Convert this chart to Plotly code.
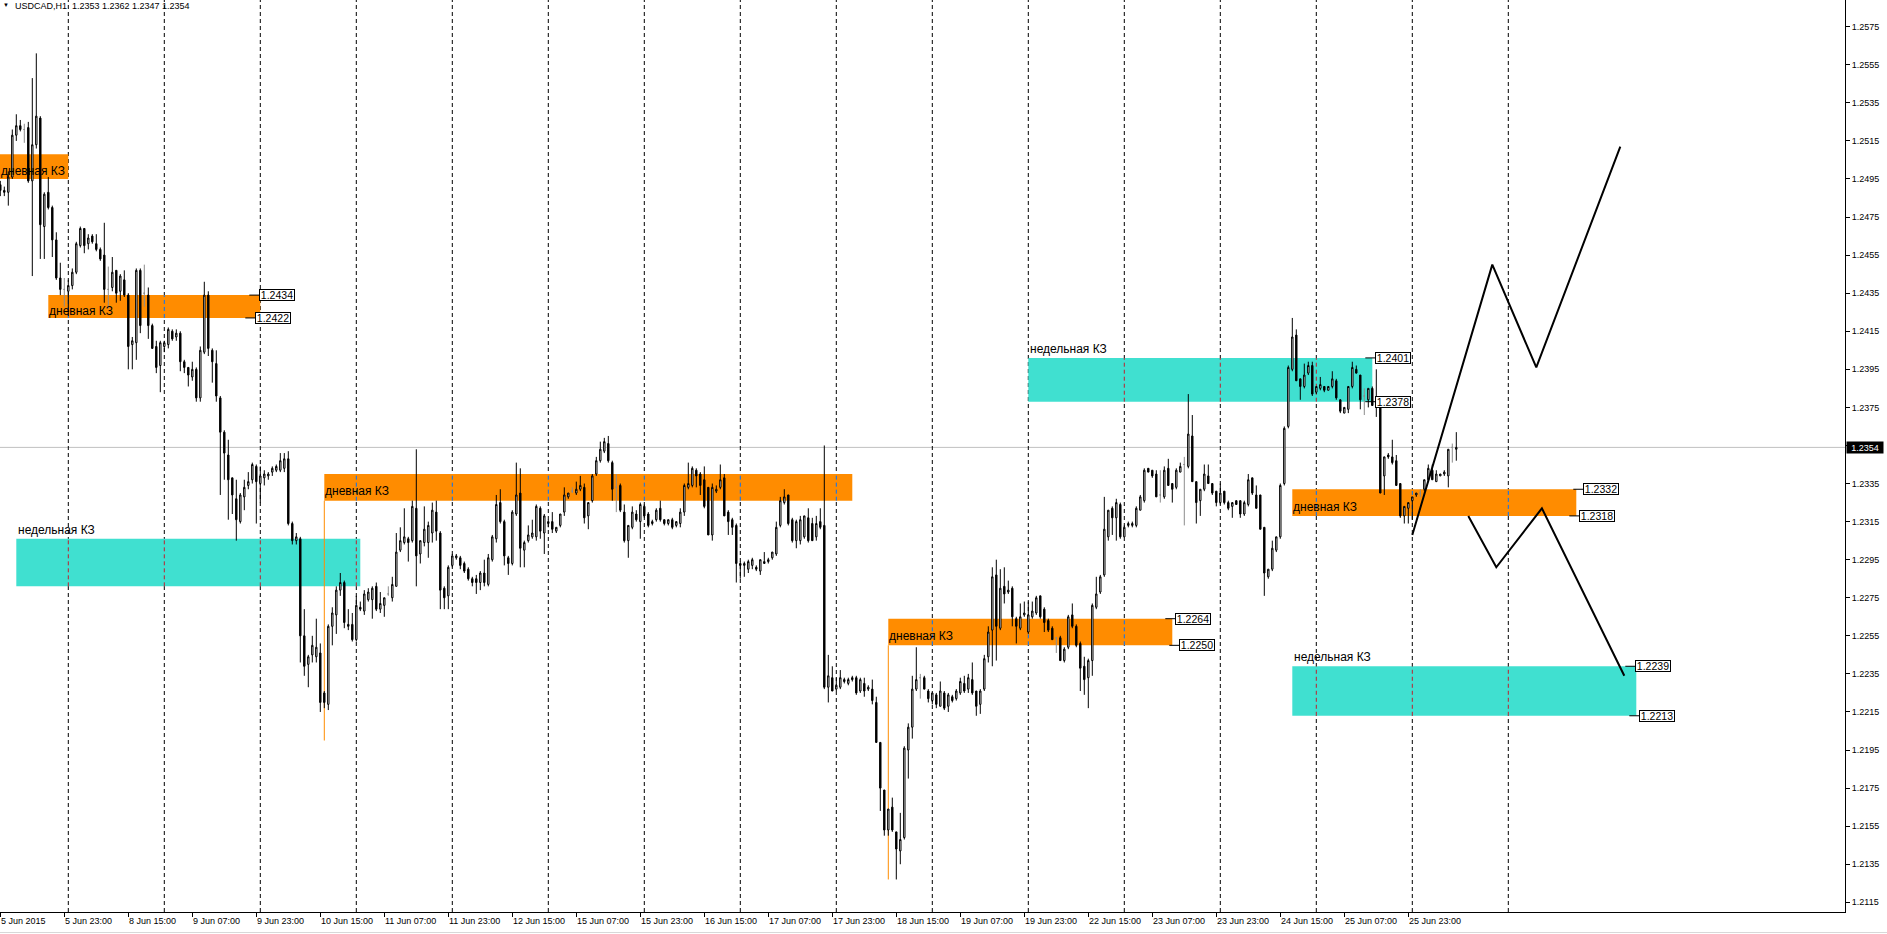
import plotly.graph_objects as go

# ---------------- data (prices stored as pips above 1.2000) ----------------
first_bar = -16  # bar index of first visible H1 bar (5 Jun 07:00); 0 = 5 Jun 23:00
opens = [492,489,488,496,518,523,521,522,494,513,527,470,488,480,463,443,
 437,436,439,446,460,469,461,465,461,458,455,437,438,447,436,442,
 434,408,409,447,435,434,418,407,397,407,408,415,412,414,399,396,
 391,395,380,404,434,405,398,380,362,350,338,327,315,328,334,337,
 344,335,338,339,341,342,342,343,348,314,305,306,255,240,245,244,
 246,225,219,260,266,279,283,261,261,253,270,268,274,274,281,269,
 271,277,275,281,300,304,306,305,322,298,304,304,309,320,309,280,
 276,292,296,296,293,290,285,285,283,288,282,295,306,325,315,296,
 293,319,330,300,305,307,307,322,309,314,315,310,313,320,328,331,
 330,332,333,318,326,340,347,352,356,346,333,334,320,305,312,319,
 315,323,319,314,316,322,316,314,316,313,314,320,333,334,342,340,
 337,333,308,331,333,338,320,316,313,293,292,290,292,291,289,293,
 294,296,298,313,325,329,316,305,305,307,317,314,307,315,313,228,
 233,227,228,232,230,233,233,226,230,227,227,220,199,174,153,165,
 152,142,149,195,207,227,233,233,226,221,224,218,225,218,223,222,
 225,230,227,232,226,219,227,244,258,287,259,281,278,280,264,259,
 266,257,265,267,276,269,263,259,254,254,242,249,266,260,251,239,
 233,242,270,278,287,307,322,317,324,307,313,313,313,321,326,343,
 342,340,329,328,343,335,333,341,345,344,360,336,326,332,339,335,
 331,325,331,325,323,326,326,319,324,338,329,329,312,286,290,300,
 307,335,365,395,413,390,386,393,397,383,385,386,384,386,389,379,
 372,374,386,395,392,381,379,385,379,376,339,350,349,347,335,318,
 322,326,329,330,332,337,342,336,339,340,339,354,353]
highs = [494,491,499,521,529,526,524,525,548,561,528,488,496,481,467,451,
 443,442,448,462,470,469,466,466,466,459,472,449,454,447,445,447,
 435,412,448,448,450,438,419,410,410,410,417,416,416,415,400,396,
 399,396,407,441,436,406,405,381,363,358,338,337,330,337,341,346,
 345,344,342,341,344,345,351,351,352,315,309,307,269,245,255,264,
 251,226,261,270,281,288,284,269,267,276,273,279,280,281,283,278,
 275,281,286,309,312,322,307,326,353,305,323,315,325,326,310,281,
 292,298,298,297,294,291,286,287,289,295,298,308,329,332,316,297,
 321,346,343,305,313,316,324,323,319,316,320,312,319,333,330,333,
 336,339,335,325,340,349,357,359,360,347,340,335,324,313,323,321,
 325,324,320,316,322,326,316,316,317,315,322,335,346,344,343,341,
 344,333,335,334,345,340,321,317,314,294,294,295,296,292,295,299,
 296,299,315,328,332,329,317,316,318,318,322,317,318,322,355,245,
 239,233,237,233,233,234,234,233,233,229,232,223,199,174,164,170,
 152,162,197,209,234,249,235,234,227,225,225,231,226,225,224,227,
 233,234,235,241,226,227,245,260,291,295,290,291,284,281,265,272,
 273,273,273,276,276,270,264,260,254,255,249,266,272,261,252,244,
 243,272,286,287,328,321,323,327,325,313,315,315,323,329,343,343,
 342,342,342,344,348,335,343,346,349,382,371,336,332,345,345,335,
 331,335,331,326,325,326,326,326,340,338,334,329,312,290,305,307,
 335,365,397,422,416,390,398,399,399,386,391,386,386,394,390,379,
 375,386,399,397,392,385,385,386,395,376,349,351,358,350,335,323,
 325,328,330,332,337,345,345,342,340,342,353,356,362]
lows = [486,486,481,495,515,520,514,493,444,511,453,453,479,454,442,434,
 428,423,437,445,459,456,458,461,457,452,430,427,436,430,431,433,
 395,395,400,414,428,411,406,393,383,404,406,410,410,394,393,386,
 389,378,378,403,402,388,378,329,337,316,319,305,314,321,332,335,
 314,325,334,337,339,341,341,341,313,303,303,241,234,228,241,241,
 215,217,216,250,256,276,259,258,252,252,268,266,273,264,268,267,
 265,276,273,281,299,303,294,304,281,293,302,296,304,305,269,269,
 269,291,295,290,288,284,281,277,279,281,281,294,304,314,292,287,
 292,318,291,291,304,306,305,306,298,312,309,309,312,318,327,330,
 329,331,314,311,325,339,346,351,346,326,320,320,304,296,311,315,
 306,317,312,313,315,315,313,313,311,312,312,318,332,333,333,329,
 322,308,305,330,332,318,308,308,283,285,286,288,290,289,287,293,
 293,295,297,312,324,313,304,301,303,306,304,305,305,311,227,220,
 226,226,227,230,229,231,224,225,223,226,219,199,163,150,150,152,
 127,135,148,180,201,226,222,227,220,219,217,218,216,215,220,221,
 224,225,225,224,213,214,226,241,239,242,258,272,277,260,251,258,
 265,256,264,266,264,257,257,253,246,242,241,248,259,249,226,224,
 217,234,269,277,286,305,308,305,306,307,312,312,312,321,325,341,
 338,328,325,327,334,325,332,341,313,343,336,314,318,331,335,329,
 323,324,324,321,317,324,317,318,323,329,322,311,276,285,289,299,
 306,334,364,394,389,379,385,392,381,382,384,383,384,385,379,372,
 372,372,385,393,374,371,375,376,370,330,329,348,345,334,317,314,
 314,316,328,328,331,336,337,336,339,339,333,346,347]
closes = [489,488,496,518,523,521,521,494,513,528,471,487,480,463,443,437,
 437,439,446,461,469,460,464,462,458,453,437,437,446,435,444,434,
 407,410,447,418,435,418,406,396,409,409,416,411,414,399,396,392,
 395,380,405,434,406,399,381,362,351,337,329,316,329,333,336,345,
 336,339,340,340,343,344,347,348,314,305,307,255,239,244,250,249,
 220,220,260,267,279,283,262,260,253,271,269,277,278,280,269,272,
 275,277,282,299,305,307,304,323,297,305,311,313,321,310,279,275,
 291,297,297,292,289,285,283,283,288,283,296,307,324,315,297,293,
 320,329,301,304,308,309,323,310,318,315,311,312,319,329,330,331,
 332,334,317,325,339,347,353,357,347,332,333,321,305,313,320,316,
 324,318,313,315,321,316,314,316,312,315,320,334,335,343,339,334,
 323,308,333,332,337,318,315,312,293,292,293,294,295,290,295,294,
 295,299,312,326,328,314,305,315,316,318,305,305,314,312,228,234,
 226,229,233,231,232,232,225,232,226,228,221,199,175,153,164,153,
 143,148,196,207,227,232,233,227,222,225,219,226,217,224,221,226,
 231,226,233,225,218,226,243,257,286,260,280,277,279,265,260,265,
 267,266,268,275,265,262,258,253,254,242,248,265,260,250,238,232,
 242,271,277,286,311,321,317,325,307,312,314,314,322,328,342,341,
 339,328,329,342,334,332,342,344,345,361,336,325,332,340,335,330,
 325,330,325,322,325,324,319,325,337,330,322,311,288,290,301,307,
 334,364,396,412,389,386,392,397,382,386,387,384,386,390,380,373,
 375,386,396,393,379,381,385,376,376,330,349,349,346,334,318,323,
 325,328,330,330,337,343,337,340,340,341,353,354,354]

# period separators (first bar of each trading day) and time-scale labels
day_starts = [1, 25, 49, 73, 97, 121, 145, 169, 193, 217, 241, 265, 289, 313, 337, 361]
time_label_idx = [-16, 0, 16, 32, 48, 64, 80, 96, 112, 128, 144, 160, 176, 192, 208,
                  224, 240, 256, 272, 288, 304, 320, 336]
time_labels = ["5 Jun 2015", "5 Jun 23:00", "8 Jun 15:00", "9 Jun 07:00", "9 Jun 23:00",
               "10 Jun 15:00", "11 Jun 07:00", "11 Jun 23:00", "12 Jun 15:00", "15 Jun 07:00",
               "15 Jun 23:00", "16 Jun 15:00", "17 Jun 07:00", "17 Jun 23:00", "18 Jun 15:00",
               "19 Jun 07:00", "19 Jun 23:00", "22 Jun 15:00", "23 Jun 07:00", "23 Jun 23:00",
               "24 Jun 15:00", "25 Jun 07:00", "25 Jun 23:00"]
price_ticks = [1.2115, 1.2135, 1.2155, 1.2175, 1.2195, 1.2215, 1.2235, 1.2255, 1.2275,
               1.2295, 1.2315, 1.2335, 1.2355, 1.2375, 1.2395, 1.2415, 1.2435, 1.2455,
               1.2475, 1.2495, 1.2515, 1.2535, 1.2555, 1.2575]
price_tick_text = ["1.2115", "1.2135", "1.2155", "1.2175", "1.2195", "1.2215", "1.2235",
                   "1.2255", "1.2275", "1.2295", "1.2315", "1.2335", "1.2355", "1.2375",
                   "1.2395", "1.2415", "1.2435", "1.2455", "1.2475", "1.2495", "1.2515",
                   "1.2535", "1.2555", "1.2575"]
current_price = 1.2354

# supply / demand zones ("КЗ")
zone_start = [-20, -4, -12, 65, 206, 241, 307, 307]
zone_end = [1, 49, 74, 197, 277, 327, 378, 393]
zone_top = [1.2508, 1.2434, 1.2306, 1.2340, 1.2264, 1.2401, 1.2332, 1.2239]
zone_bottom = [1.2495, 1.2422, 1.2281, 1.2326, 1.2250, 1.2378, 1.2318, 1.2213]
zone_weekly = [False, False, True, False, False, True, False, True]
zone_text = ["дневная КЗ", "дневная КЗ", "недельная КЗ", "дневная КЗ",
             "дневная КЗ", "недельная КЗ", "дневная КЗ", "недельная КЗ"]

# vertical marker lines from zone origin down to the swing low
vline_idx = [65, 206]
vline_top = [1.2326, 1.2250]
vline_low = [1.2200, 1.2127]

# price-label objects
plabel_idx = [49, 48, 278, 279, 328, 328, 380, 379, 393, 394]
plabel_price = [1.2434, 1.2422, 1.2264, 1.2250, 1.2401, 1.2378, 1.2332, 1.2318, 1.2239, 1.2213]

# hand-drawn forecast paths
fc1_idx = [337, 357, 368, 389]
fc1_price = [1.2308, 1.2450, 1.2396, 1.2512]
fc2_idx = [351, 358, 369.4, 390]
fc2_price = [1.2318, 1.2291, 1.2322, 1.2234]

# ---------------- build figure ----------------
def px(v):
    return round(1.2 + v / 10000.0, 4)

n = len(closes)
xs = [first_bar + i for i in range(n)]
O = [px(v) for v in opens]
H = [px(v) for v in highs]
L = [px(v) for v in lows]
C = [px(v) for v in closes]

norm = [i for i in range(n) if opens[i] != closes[i]]
doji = [i for i in range(n) if opens[i] == closes[i]]

FONT = "Liberation Sans, Arial, sans-serif"
ORANGE = "#FF8C00"
TURQ = "#40E0D0"

fig = go.Figure()
fig.add_trace(go.Candlestick(
    x=[xs[i] for i in norm], open=[O[i] for i in norm], high=[H[i] for i in norm],
    low=[L[i] for i in norm], close=[C[i] for i in norm],
    increasing=dict(line=dict(color="black", width=1), fillcolor="white"),
    decreasing=dict(line=dict(color="black", width=1), fillcolor="black"),
    whiskerwidth=0, hoverinfo="skip", showlegend=False))
fig.add_trace(go.Candlestick(
    x=[xs[i] for i in doji], open=[O[i] for i in doji], high=[H[i] for i in doji],
    low=[L[i] for i in doji], close=[C[i] for i in doji],
    increasing=dict(line=dict(color="#8C8C8C", width=1), fillcolor="#8C8C8C"),
    decreasing=dict(line=dict(color="#8C8C8C", width=1), fillcolor="#8C8C8C"),
    whiskerwidth=0, hoverinfo="skip", showlegend=False))

for xi, yi in ((fc1_idx, fc1_price), (fc2_idx, fc2_price)):
    fig.add_trace(go.Scatter(x=xi, y=yi, mode="lines", line=dict(color="black", width=2),
                             hoverinfo="skip", showlegend=False))

shapes = []
# current price line
shapes.append(dict(type="line", xref="paper", x0=0, x1=1, yref="y", y0=current_price,
                   y1=current_price, line=dict(color="#C0C0C0", width=1), layer="below"))
# period separators
for d in day_starts:
    shapes.append(dict(type="line", xref="x", x0=d, x1=d, yref="paper", y0=0, y1=1,
                       line=dict(color="black", width=1, dash="4px,3px"), layer="below"))
# zones
for s, e, t, b, w in zip(zone_start, zone_end, zone_top, zone_bottom, zone_weekly):
    shapes.append(dict(type="rect", xref="x", yref="y", x0=s, x1=e, y0=b, y1=t,
                       fillcolor=TURQ if w else ORANGE, line=dict(width=0), layer="below"))
    for d in day_starts:
        if s < d < e:
            shapes.append(dict(type="line", xref="x", x0=d, x1=d, yref="y", y0=b, y1=t,
                               line=dict(color="#BF1F2F" if w else "#0073FF", width=1,
                                         dash="4px,3px"), layer="below"))
for xv, yt, yl in zip(vline_idx, vline_top, vline_low):
    shapes.append(dict(type="line", xref="x", x0=xv, x1=xv, yref="y", y0=yt, y1=yl,
                       line=dict(color=ORANGE, width=1), layer="below"))
# price label leaders
for xi, p in zip(plabel_idx, plabel_price):
    shapes.append(dict(type="line", xref="x", x0=xi - 2.75, x1=xi, yref="y", y0=p, y1=p,
                       line=dict(color="black", width=1), layer="above"))
# window frame bits outside the plot
shapes.append(dict(type="line", xref="paper", yref="paper", x0=-0.01, x1=1.03,
                   y0=-0.0225, y1=-0.0225, line=dict(color="#D8D8D8", width=1)))

annotations = []
for s, t, b, w, txt in zip(zone_start, zone_top, zone_bottom, zone_weekly, zone_text):
    xa = max(s, first_bar)
    if w:
        annotations.append(dict(x=xa, y=t, xref="x", yref="y", text=txt, showarrow=False,
                                xanchor="left", yanchor="middle", yshift=9, xshift=0,
                                font=dict(family=FONT, size=12, color="black")))
    else:
        annotations.append(dict(x=xa, y=(t + b) / 2, xref="x", yref="y", text=txt,
                                showarrow=False, xanchor="left", yanchor="middle", yshift=-4,
                                xshift=-1, font=dict(family=FONT, size=12, color="black")))
for xi, p in zip(plabel_idx, plabel_price):
    annotations.append(dict(x=xi, y=p, xref="x", yref="y", text=f"{p:.4f}", showarrow=False,
                            xanchor="left", yanchor="middle", xshift=-1, width=34, height=10,
                            borderpad=0, borderwidth=1, bordercolor="black", bgcolor="white",
                            font=dict(family=FONT, size=10.5, color="black")))
for xi, txt in zip(time_label_idx, time_labels):
    annotations.append(dict(x=xi, y=0, xref="x", yref="paper", text=txt, showarrow=False,
                            xanchor="left", yanchor="top", yshift=-2, xshift=-1,
                            font=dict(family=FONT, size=9, color="black")))
# current price tag on the price scale
annotations.append(dict(x=1, y=current_price, xref="paper", yref="y", text=f"{current_price:.4f}",
                        showarrow=False, xanchor="left", yanchor="middle", xshift=1, width=34,
                        height=9, borderpad=1, bgcolor="black",
                        font=dict(family=FONT, size=9, color="white")))
# header
last = n - 1
annotations.append(dict(x=0, y=1, xref="paper", yref="paper", text="▼", showarrow=False,
                        xanchor="left", yanchor="top", xshift=1, yshift=0,
                        font=dict(family=FONT, size=6, color="black")))
annotations.append(dict(x=0, y=1, xref="paper", yref="paper",
                        text="USDCAD,H1\u00a0\u00a0" + f"{O[last]:.4f} {H[last]:.4f} {L[last]:.4f} {C[last]:.4f}",
                        showarrow=False, xanchor="left", yanchor="top", xshift=13, yshift=1,
                        font=dict(family=FONT, size=9, color="black")))

fig.update_layout(
    width=1887, height=934,
    margin=dict(l=0, r=42, t=0, b=22, pad=0),
    paper_bgcolor="white", plot_bgcolor="white",
    showlegend=False, boxgap=0.5,
    shapes=shapes, annotations=annotations,
    xaxis=dict(range=[-16.075, 445.175], showgrid=False, zeroline=False, showline=True,
               linecolor="black", linewidth=1, ticks="outside", ticklen=4, tickcolor="black",
               tickvals=time_label_idx, showticklabels=False, rangeslider=dict(visible=False),
               fixedrange=True),
    yaxis=dict(range=[1.210991, 1.258903], side="right", showgrid=False, zeroline=False,
               showline=True, linecolor="black", linewidth=1, ticks="outside", ticklen=4,
               tickcolor="black", tickvals=price_ticks, ticktext=price_tick_text,
               tickfont=dict(family=FONT, size=9, color="black"), fixedrange=True),
)

fig.write_html("out.html", config=dict(displayModeBar=False, staticPlot=True),
               post_script="document.body.style.margin='0';document.body.style.overflow='hidden';")
